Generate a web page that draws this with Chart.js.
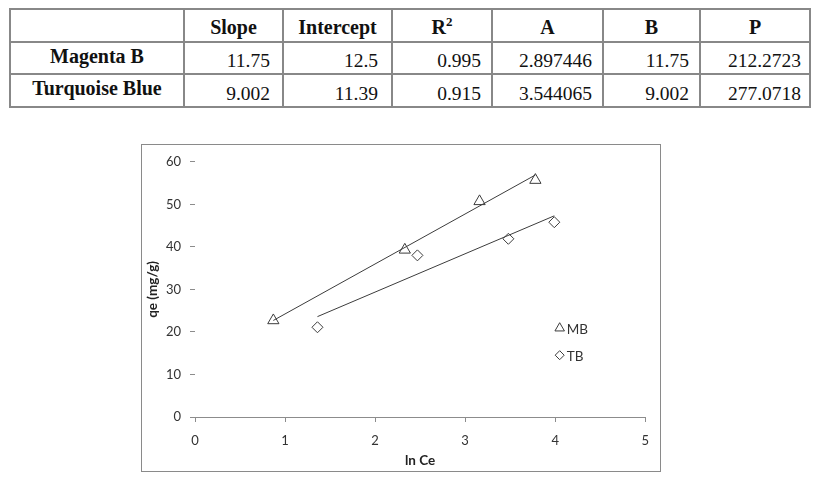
<!DOCTYPE html>
<html>
<head>
<meta charset="utf-8">
<script src="https://cdn.jsdelivr.net/npm/chart.js@4.4.1/dist/chart.umd.min.js"></script>
<style>
  body { margin: 0; background: #fff; }
  #params {
    position: absolute; left: 9px; top: 8px;
    width: 800px; border-collapse: collapse; table-layout: fixed;
    font-family: "Liberation Serif", "Times New Roman", serif; font-size: 19.5px; color: #111;
  }
  #params td, #params th { border: 2px solid #888; padding: 0; line-height: 1.1; }
  #params th { font-size: 20px; font-weight: bold; text-align: center; vertical-align: middle; height: 28px; padding-top: 3px; }
  #params th sup { font-size: 13px; vertical-align: 8px; line-height: 0; }
  #params td.name { font-size: 20px; font-weight: bold; text-align: center; vertical-align: top; padding-top: 2px; }
  #params td.num { text-align: right; vertical-align: bottom; padding-bottom: 2px; }
  #params tr.r td { height: 28px; }
  #params tr.r + tr.r td { height: 29px; }
  #params td.c1 { padding-right: 12px; }
  #params td.c2 { padding-right: 13px; }
  #params td.c3, #params td.c4, #params td.c5 { padding-right: 10px; }
  #params td.c6 { padding-right: 8px; }
  #chartBox {
    position: absolute; left: 141px; top: 144px; width: 520px; height: 328px;
    box-sizing: border-box; border: 1px solid #8a8a8a; background: #fff;
  }
  #chartBox canvas { display: block; }
</style>
</head>
<body>
<table id="params">
  <colgroup>
    <col style="width:174px"><col style="width:99px"><col style="width:109px"><col style="width:100px">
    <col style="width:111px"><col style="width:97px"><col style="width:110px">
  </colgroup>
  <thead><tr id="headRow"><th></th></tr></thead>
  <tbody id="bodyRows"></tbody>
</table>

<div id="chartBox"><canvas id="isotherm" width="518" height="326"></canvas></div>

<script>
// table values
const paramHeaders = ['Slope', 'Intercept', 'R<sup>2</sup>', 'A', 'B', 'P'];
const dyeNames = ['Magenta B', 'Turquoise Blue'];
const slopeVals = ['11.75', '9.002'];
const interceptVals = ['12.5', '11.39'];
const r2Vals = ['0.995', '0.915'];
const aVals = ['2.897446', '3.544065'];
const bVals = ['11.75', '9.002'];
const pVals = ['212.2723', '277.0718'];

// chart values (ln Ce vs qe)
const mbLnCe = [0.87, 2.33, 3.16, 3.78];
const mbQe = [22.7, 39.3, 50.7, 55.7];
const tbLnCe = [1.36, 2.47, 3.48, 3.99];
const tbQe = [21.1, 38.0, 41.9, 45.8];

// linear trendline end points
const mbFitX = [0.87, 3.78];
const mbFitY = [22.7, 56.9];
const tbFitX = [1.36, 3.99];
const tbFitY = [23.6, 47.3];

const xTicks = [0, 1, 2, 3, 4, 5];
const yTicks = [0, 10, 20, 30, 40, 50, 60];

// build the table
const headRow = document.getElementById('headRow');
paramHeaders.forEach(h => {
  const th = document.createElement('th');
  th.innerHTML = h;
  headRow.appendChild(th);
});
const bodyRows = document.getElementById('bodyRows');
const columns = [slopeVals, interceptVals, r2Vals, aVals, bVals, pVals];
dyeNames.forEach((name, i) => {
  const tr = document.createElement('tr');
  tr.className = 'r';
  let html = '<td class="name">' + name + '</td>';
  columns.forEach((col, c) => {
    html += '<td class="num c' + (c + 1) + '">' + col[i] + '</td>';
  });
  tr.innerHTML = html;
  bodyRows.appendChild(tr);
});

const toPoints = (xs, ys) => xs.map((x, i) => ({ x: x, y: ys[i] }));

const ink = '#3c3c3c';
const axisGray = '#8c8c8c';
const tickFont = { family: 'Lato', size: 13 };

// legend drawn inside the plot, like the Excel original
const insideLegend = {
  id: 'insideLegend',
  afterDatasetsDraw(chart) {
    const { ctx, chartArea } = chart;
    const items = [
      { label: 'MB', style: 'triangle', radius: 5.5 },
      { label: 'TB', style: 'rectRot', radius: 4.5 }
    ];
    const x = chartArea.left + chartArea.width * 0.81;
    let y = chartArea.top + chartArea.height * 0.652;
    ctx.save();
    items.forEach(item => {
      ctx.strokeStyle = ink;
      ctx.fillStyle = 'rgba(0,0,0,0)';
      ctx.lineWidth = 1;
      Chart.helpers.drawPoint(ctx, { pointStyle: item.style, radius: item.radius, borderWidth: 1 }, x, y);
      ctx.fillStyle = '#333';
      ctx.font = '13.5px Lato';
      ctx.textBaseline = 'middle';
      ctx.fillText(item.label, x + 7, y + 1);
      y += 27;
    });
    ctx.restore();
  }
};

new Chart(document.getElementById('isotherm'), {
  type: 'scatter',
  data: {
    datasets: [
      {
        label: 'MB fit',
        data: toPoints(mbFitX, mbFitY),
        showLine: true,
        pointRadius: 0,
        borderColor: ink,
        borderWidth: 1
      },
      {
        label: 'TB fit',
        data: toPoints(tbFitX, tbFitY),
        showLine: true,
        pointRadius: 0,
        borderColor: ink,
        borderWidth: 1
      },
      {
        label: 'MB',
        data: toPoints(mbLnCe, mbQe),
        pointStyle: 'triangle',
        pointRadius: 6.5,
        borderColor: ink,
        backgroundColor: 'rgba(0,0,0,0)',
        borderWidth: 1
      },
      {
        label: 'TB',
        data: toPoints(tbLnCe, tbQe),
        pointStyle: 'rectRot',
        pointRadius: 5.5,
        borderColor: ink,
        backgroundColor: 'rgba(0,0,0,0)',
        borderWidth: 1
      }
    ]
  },
  options: {
    responsive: false,
    animation: false,
    layout: { padding: { left: 0, top: 15, right: 11, bottom: 0 } },
    plugins: {
      legend: { display: false },
      tooltip: { enabled: false }
    },
    scales: {
      x: {
        type: 'linear',
        min: 0,
        max: 5,
        afterBuildTicks: s => { s.ticks = xTicks.map(v => ({ value: v })); },
        afterFit: s => { s.height = 54; },
        border: { display: true, color: axisGray, width: 1 },
        grid: { drawOnChartArea: false, drawTicks: true, tickLength: 5, color: axisGray },
        ticks: { color: '#333', font: tickFont, padding: 11 },
        title: { display: true, text: 'ln Ce', color: '#222', font: { family: 'Lato', size: 13.5, weight: 'bold' }, padding: { top: 0, bottom: 2 } }
      },
      y: {
        type: 'linear',
        min: 0,
        max: 60,
        afterBuildTicks: s => { s.ticks = yTicks.map(v => ({ value: v })); },
        afterFit: s => { s.width = 53; },
        border: { display: false },
        grid: { drawOnChartArea: false, drawTicks: true, tickLength: 5, color: axisGray },
        ticks: { color: '#333', font: tickFont, padding: 9 },
        title: { display: true, text: 'qe (mg/g)', color: '#222', font: { family: 'Lato', size: 13.5, weight: 'bold' }, padding: { top: 3, bottom: 0 } }
      }
    }
  },
  plugins: [insideLegend]
});
</script>
</body>
</html>
